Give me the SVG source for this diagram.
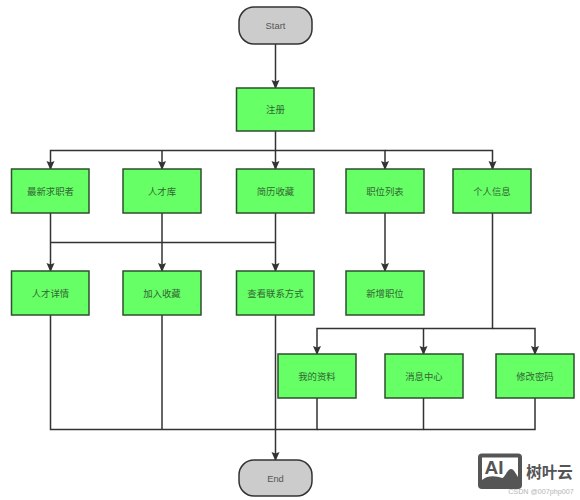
<svg xmlns="http://www.w3.org/2000/svg" width="580" height="500" viewBox="0 0 580 500">
<style>
text{font-family:"Liberation Sans","Noto Sans CJK SC",sans-serif;font-size:9.400px;text-anchor:middle;dominant-baseline:central}
.box rect{fill:#66ff66;stroke:#2f4f2f;stroke-width:1.5}
.box text{fill:#336633}
.term rect{fill:#cccccc;stroke:#333333;stroke-width:1.5}
.term text{fill:#555555}
#connectors path{fill:none;stroke:#333333;stroke-width:1.5}
</style>
<defs>
<marker id="arrow" markerUnits="userSpaceOnUse" markerWidth="8" markerHeight="10" refX="8" refY="4" orient="auto" viewBox="0 0 8 8"><path d="M0 0L8 3.500V4.500L0 8L1.500 4Z" fill="#333333"/></marker>
</defs>
<rect width="580" height="500" fill="#ffffff"/>
<g id="connectors">
<path d="M275.500 44V88" marker-end="url(#arrow)"/>
<path d="M275.500 131V169" marker-end="url(#arrow)"/>
<path d="M275.500 150.500H50.500V169" marker-end="url(#arrow)"/>
<path d="M162 150.500V169" marker-end="url(#arrow)"/>
<path d="M275.500 150.500H385V169" marker-end="url(#arrow)"/>
<path d="M385 150.500H492.500V169" marker-end="url(#arrow)"/>
<path d="M50.500 213V271" marker-end="url(#arrow)"/>
<path d="M162 213V271" marker-end="url(#arrow)"/>
<path d="M275.500 213V271" marker-end="url(#arrow)"/>
<path d="M50.500 242.500H275.500"/>
<path d="M385 213V271" marker-end="url(#arrow)"/>
<path d="M492.500 213V328.500H317V354" marker-end="url(#arrow)"/>
<path d="M423.500 328.500V354" marker-end="url(#arrow)"/>
<path d="M492.500 328.500H535V354" marker-end="url(#arrow)"/>
<path d="M50.500 315V429.500H275.500"/>
<path d="M162 315V429.500"/>
<path d="M275.500 315V460" marker-end="url(#arrow)"/>
<path d="M317 398V429.500H275.500"/>
<path d="M423.500 398V429.500H317"/>
<path d="M535 398V429.500H423.500"/>
</g>
<g id="start" class="term"><rect x="239" y="7" width="73" height="37" rx="15" ry="15"/><text x="275.500" y="25.500">Start</text></g>
<g id="register" class="box"><rect x="236.500" y="88" width="77.500" height="43"/><text x="275.500" y="109.500">注册</text></g>
<g id="n1" class="box"><rect x="11.500" y="169" width="77.500" height="44"/><text x="50.500" y="191">最新求职者</text></g>
<g id="n2" class="box"><rect x="123" y="169" width="78" height="44"/><text x="162" y="191">人才库</text></g>
<g id="n3" class="box"><rect x="236.500" y="169" width="77.500" height="44"/><text x="275.500" y="191">简历收藏</text></g>
<g id="n4" class="box"><rect x="346" y="169" width="78" height="44"/><text x="385" y="191">职位列表</text></g>
<g id="n5" class="box"><rect x="453" y="169" width="78" height="44"/><text x="492" y="191">个人信息</text></g>
<g id="n6" class="box"><rect x="11.500" y="271" width="77.500" height="44"/><text x="50.500" y="293">人才详情</text></g>
<g id="n7" class="box"><rect x="123" y="271" width="78" height="44"/><text x="162" y="293">加入收藏</text></g>
<g id="n8" class="box"><rect x="236.500" y="271" width="77.500" height="44"/><text x="275.500" y="293">查看联系方式</text></g>
<g id="n9" class="box"><rect x="346" y="271" width="78" height="44"/><text x="385" y="293">新增职位</text></g>
<g id="n10" class="box"><rect x="278" y="354" width="78" height="44"/><text x="317" y="376">我的资料</text></g>
<g id="n11" class="box"><rect x="385" y="354" width="78" height="44"/><text x="424" y="376">消息中心</text></g>
<g id="n12" class="box"><rect x="496" y="354" width="78" height="44"/><text x="535" y="376">修改密码</text></g>
<g id="end" class="term"><rect x="239" y="460" width="73" height="36" rx="15" ry="15"/><text x="275.500" y="478">End</text></g>
<g id="watermark">
<rect x="478" y="453.500" width="44" height="35.500" rx="4" fill="#555555"/>
<rect x="482" y="457.500" width="36" height="25" fill="#ffffff"/>
<path d="M482 480C488 475 496 476 502 478C505 478 507 469 511 469C514 469 516 474 518 477V484H482Z" fill="#555555"/>
<text x="494" y="467" style="font-size:19px;font-weight:bold;fill:#555555">AI</text>
<text x="549.500" y="472" style="font-size:15.500px;font-weight:bold;fill:#555555">树叶云</text>
<text x="541" y="491.500" style="font-size:7.200px;fill:#b5b5b5">CSDN @007php007</text>
</g>
</svg>
